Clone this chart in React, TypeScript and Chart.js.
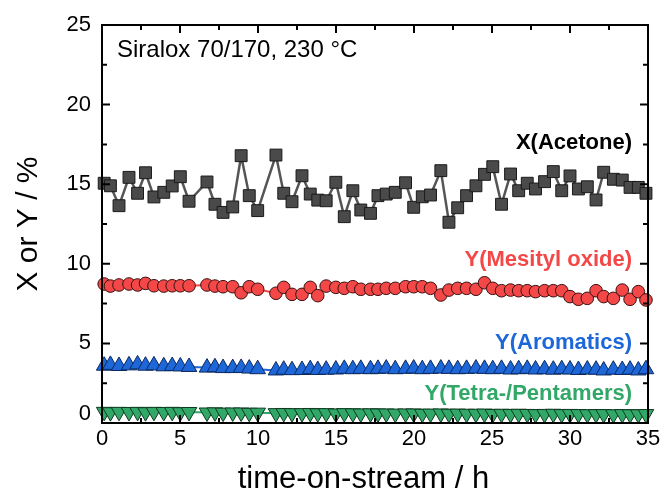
import React, { useEffect, useRef } from 'react';
import { Chart, registerables } from 'chart.js';

Chart.register(...registerables);

const timeH = [
  0.14, 0.54, 1.09, 1.73, 2.28, 2.79, 3.33, 3.96, 4.5, 5.02, 5.58,
  6.73, 7.24, 7.76, 8.38, 8.92, 9.44, 9.98,
  11.15, 11.65, 12.18, 12.82, 13.35, 13.83, 14.37, 14.99, 15.53, 16.08, 16.59, 17.21,
  17.69, 18.22, 18.8, 19.46, 19.98, 20.53, 21.06, 21.72, 22.24, 22.8,
  23.37, 23.97, 24.52, 25.05, 25.61, 26.19, 26.71, 27.26, 27.79, 28.37,
  28.93, 29.47, 30.0, 30.54, 31.11, 31.67, 32.16, 32.78, 33.35, 33.85,
  34.38, 34.87,
];

const acetoneX = [
  15.06, 14.9, 13.65, 15.43, 14.43, 15.72, 14.2, 14.49, 14.89, 15.47,
  13.93, 15.14, 13.74, 13.23, 13.57, 16.79, 14.28, 13.34, 16.83, 14.43,
  13.9, 15.53, 14.38, 14.0, 13.96, 15.12, 12.96, 14.59, 13.38, 13.17,
  14.28, 14.38, 14.49, 15.09, 13.55, 14.21, 14.32, 15.85, 12.61, 13.52,
  14.28, 14.9, 15.62, 16.1, 13.74, 15.64, 14.59, 15.06, 14.7, 15.16,
  15.79, 14.59, 15.52, 14.7, 14.84, 14.01, 15.75, 15.31, 15.26, 14.8,
  14.8, 14.43,
];

const mesitylOxideY = [
  8.73, 8.6, 8.67, 8.73, 8.67, 8.77, 8.62, 8.6, 8.62, 8.62, 8.62,
  8.67, 8.6, 8.56, 8.56, 8.18, 8.56, 8.4,
  8.15, 8.52, 8.08, 8.08, 8.52, 8.0, 8.6, 8.52, 8.46, 8.56, 8.4, 8.4,
  8.4, 8.46, 8.46, 8.56, 8.56, 8.56, 8.46, 8.04, 8.35, 8.46,
  8.46, 8.4, 8.81, 8.46, 8.31, 8.35, 8.31, 8.31, 8.25, 8.31,
  8.31, 8.31, 7.94, 7.77, 7.83, 8.31, 7.94, 7.83, 8.35, 7.77,
  8.25, 7.73,
];

const aromaticsY = [
  3.6, 3.65, 3.58, 3.62, 3.68, 3.6, 3.62, 3.56, 3.58, 3.55, 3.52,
  3.48, 3.5, 3.45, 3.45, 3.46, 3.42, 3.38,
  3.3, 3.35, 3.32, 3.33, 3.38, 3.33, 3.35, 3.36, 3.4, 3.38, 3.4, 3.38,
  3.4, 3.42, 3.38, 3.4, 3.42, 3.38, 3.4, 3.42, 3.4, 3.38,
  3.4, 3.42, 3.4, 3.38, 3.4, 3.36, 3.38, 3.4, 3.36, 3.38,
  3.35, 3.38, 3.36, 3.33, 3.36, 3.35, 3.3, 3.35, 3.33, 3.35,
  3.3, 3.38,
];

const tetraPentamersY = [
  0.7, 0.68, 0.7, 0.69, 0.7, 0.68, 0.7, 0.69, 0.7, 0.68, 0.69,
  0.66, 0.67, 0.65, 0.66, 0.66, 0.64, 0.65,
  0.62, 0.63, 0.62, 0.62, 0.63, 0.61, 0.62, 0.6, 0.62, 0.61, 0.6, 0.61,
  0.6, 0.6, 0.59, 0.6, 0.6, 0.58, 0.59, 0.6, 0.58, 0.59,
  0.58, 0.58, 0.59, 0.57, 0.58, 0.57, 0.58, 0.57, 0.56, 0.57,
  0.58, 0.56, 0.57, 0.56, 0.55, 0.56, 0.56, 0.55, 0.56, 0.55,
  0.55, 0.56,
];

const xTicks = [0, 5, 10, 15, 20, 25, 30, 35];
const yTicks = [0, 5, 10, 15, 20, 25];
const xMinorStep = 2.5;
const yMinorStep = 2.5;

const FONT = "Arial, 'Liberation Sans', Helvetica, sans-serif";

const COL_GRAY = '#4a4a4a';
const COL_RED = '#f44848';
const COL_BLUE = '#1d67d9';
const COL_GREEN = '#31a867';

const pts = (ys: number[]) => timeH.map((t, i) => ({ x: t, y: ys[i] }));

const framePlugin = {
  id: 'frame',
  afterDatasetsDraw(chart: any) {
    const { ctx, chartArea: a, scales } = chart;
    const xs = scales.x;
    const ys = scales.y;
    ctx.save();
    ctx.strokeStyle = '#000';
    ctx.lineWidth = 2;
    ctx.lineCap = 'butt';
    ctx.strokeRect(a.left, a.top, a.right - a.left, a.bottom - a.top);
    const MAJ = 8;
    const MIN = 5;
    for (let v = xs.min; v <= xs.max + 1e-9; v += xMinorStep) {
      const px = xs.getPixelForValue(v);
      const len = Math.abs(v / 5 - Math.round(v / 5)) < 1e-6 ? MAJ : MIN;
      ctx.beginPath();
      ctx.moveTo(px, a.bottom);
      ctx.lineTo(px, a.bottom - len);
      ctx.moveTo(px, a.top);
      ctx.lineTo(px, a.top + len);
      ctx.stroke();
    }
    for (let v = ys.min; v <= ys.max + 1e-9; v += yMinorStep) {
      const py = ys.getPixelForValue(v);
      const len = Math.abs(v / 5 - Math.round(v / 5)) < 1e-6 ? MAJ : MIN;
      ctx.beginPath();
      ctx.moveTo(a.left, py);
      ctx.lineTo(a.left + len, py);
      ctx.moveTo(a.right, py);
      ctx.lineTo(a.right - len, py);
      ctx.stroke();
    }
    ctx.restore();
  },
};

const textPlugin = {
  id: 'texts',
  afterDraw(chart: any) {
    const { ctx, chartArea: a, scales } = chart;
    ctx.save();
    ctx.fillStyle = '#000';
    ctx.font = `22px ${FONT}`;
    ctx.textAlign = 'right';
    ctx.textBaseline = 'middle';
    ctx.fillText(String(yTicks[0]), a.left - 11, scales.y.getPixelForValue(yTicks[0]) - 9);

    ctx.textBaseline = 'alphabetic';
    ctx.font = `24px ${FONT}`;
    ctx.textAlign = 'left';
    ctx.fillText('Siralox 70/170, 230 °C', a.left + 15, a.top + 31.5);
    ctx.font = `bold 22px ${FONT}`;
    ctx.textAlign = 'right';
    const rx = a.right - 16;
    ctx.fillStyle = '#000';
    ctx.fillText('X(Acetone)', rx, 149);
    ctx.fillStyle = COL_RED;
    ctx.fillText('Y(Mesityl oxide)', rx, 266);
    ctx.fillStyle = COL_BLUE;
    ctx.fillText('Y(Aromatics)', rx, 349);
    ctx.fillStyle = COL_GREEN;
    ctx.fillText('Y(Tetra-/Pentamers)', rx, 399.5);
    ctx.fillStyle = '#000';
    ctx.font = `31px ${FONT}`;
    ctx.textAlign = 'center';
    ctx.fillText('time-on-stream / h', 363.5, 488);
    ctx.translate(37, (a.top + a.bottom) / 2);
    ctx.rotate(-Math.PI / 2);
    ctx.font = `30px ${FONT}`;
    ctx.fillText('X or Y / %', 0, 0);
    ctx.restore();
  },
};

export default function App() {
  const ref = useRef<HTMLCanvasElement>(null);
  useEffect(() => {
    const canvas = ref.current;
    if (!canvas) return;
    const chart = new Chart(canvas, {
      type: 'line',
      data: {
        datasets: [
          {
            label: 'X(Acetone)',
            data: pts(acetoneX),
            borderColor: '#555555',
            borderWidth: 2.5,
            pointStyle: 'rect',
            pointRadius: 8.4,
            pointBackgroundColor: COL_GRAY,
            pointBorderColor: '#1a1a1a',
            pointBorderWidth: 1,
            clip: false,
          } as any,
          {
            label: 'Y(Mesityl oxide)',
            data: pts(mesitylOxideY),
            borderColor: COL_RED,
            borderWidth: 2,
            pointStyle: 'circle',
            pointRadius: 6.3,
            pointBackgroundColor: COL_RED,
            pointBorderColor: '#3a1010',
            pointBorderWidth: 1,
            clip: false,
          },
          {
            label: 'Y(Aromatics)',
            data: pts(aromaticsY),
            borderColor: COL_BLUE,
            borderWidth: 2,
            pointStyle: 'triangle',
            pointRadius: 9,
            pointBackgroundColor: COL_BLUE,
            pointBorderColor: '#0d2a60',
            pointBorderWidth: 1,
            clip: false,
          },
          {
            label: 'Y(Tetra-/Pentamers)',
            data: pts(tetraPentamersY),
            borderColor: COL_GREEN,
            borderWidth: 2,
            pointStyle: 'triangle',
            pointRotation: 180,
            pointRadius: 9,
            pointBackgroundColor: COL_GREEN,
            pointBorderColor: '#0f3a22',
            pointBorderWidth: 1,
            clip: false,
          },
        ],
      },
      options: {
        responsive: false,
        animation: false,
        devicePixelRatio: 1,
        layout: { padding: { top: 25, right: 18, left: 0, bottom: 0 } },
        plugins: { legend: { display: false }, tooltip: { enabled: false } },
        scales: {
          x: {
            type: 'linear',
            min: 0,
            max: 35,
            afterBuildTicks: (s: any) => {
              s.ticks = xTicks.map((v) => ({ value: v }));
            },
            afterFit: (s: any) => {
              s.height = 68;
            },
            ticks: {
              color: '#000',
              font: { family: FONT, size: 22 },
              padding: 3,
              maxRotation: 0,
              autoSkip: false,
            },
            grid: { display: false, drawTicks: false },
            border: { display: false },
          },
          y: {
            type: 'linear',
            min: 0,
            max: 25,
            afterBuildTicks: (s: any) => {
              s.ticks = yTicks.map((v) => ({ value: v }));
            },
            afterFit: (s: any) => {
              s.width = 102;
            },
            ticks: {
              color: '#000',
              font: { family: FONT, size: 22 },
              padding: 11,
              autoSkip: false,
              callback: (v: any) => (v === yTicks[0] ? '' : String(v)),
            },
            grid: { display: false, drawTicks: false },
            border: { display: false },
          },
        },
      },
      plugins: [framePlugin, textPlugin],
    });
    return () => chart.destroy();
  }, []);
  return (
    <div style={{ position: 'fixed', left: 0, top: 0, width: 666, height: 491, background: '#fff' }}>
      <canvas ref={ref} width={666} height={491} style={{ display: 'block', width: 666, height: 491 }} />
    </div>
  );
}
